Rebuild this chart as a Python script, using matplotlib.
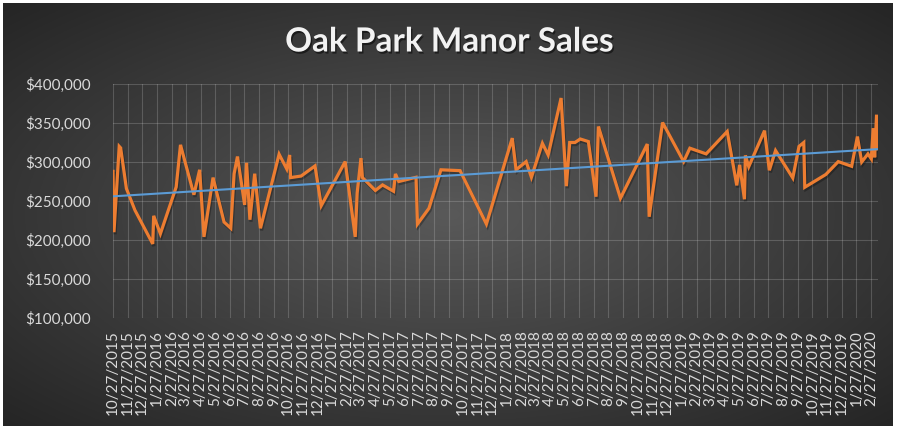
import numpy as np
import pandas as pd
import matplotlib
matplotlib.use("Agg")
import matplotlib.pyplot as plt
import matplotlib.dates as mdates
import matplotlib.patheffects as pe
from matplotlib.ticker import FuncFormatter

sale_dates = [
    "2015-10-27", "2015-10-29", "2015-11-09", "2015-11-12", "2015-11-24", "2015-12-12",
    "2016-01-18", "2016-01-20", "2016-02-03", "2016-03-07", "2016-03-16", "2016-04-13",
    "2016-04-25", "2016-05-04", "2016-05-23", "2016-06-15", "2016-06-29", "2016-07-06",
    "2016-07-13", "2016-07-28", "2016-08-01", "2016-08-08", "2016-08-18", "2016-08-30",
    "2016-10-08", "2016-10-24", "2016-10-30", "2016-11-01", "2016-11-23", "2016-12-22",
    "2017-01-04", "2017-02-23", "2017-03-16", "2017-03-20", "2017-03-28", "2017-03-31",
    "2017-04-27", "2017-05-12", "2017-06-04", "2017-06-08", "2017-06-15", "2017-07-21",
    "2017-07-24", "2017-08-17", "2017-09-11", "2017-10-21", "2017-12-15", "2018-02-07",
    "2018-02-15", "2018-03-08", "2018-03-19", "2018-04-11", "2018-04-23", "2018-05-20",
    "2018-05-31", "2018-06-07", "2018-06-18", "2018-06-29", "2018-07-16", "2018-08-01",
    "2018-08-06", "2018-09-21", "2018-11-16", "2018-11-20", "2018-12-18", "2019-01-31",
    "2019-02-13", "2019-03-19", "2019-05-02", "2019-05-22", "2019-05-28", "2019-06-07",
    "2019-06-09", "2019-06-16", "2019-07-19", "2019-07-29", "2019-08-11", "2019-09-16",
    "2019-09-29", "2019-10-09", "2019-10-11", "2019-11-24", "2019-12-20", "2020-01-17",
    "2020-01-29", "2020-02-07", "2020-02-20", "2020-02-27", "2020-03-02", "2020-03-05",
    "2020-03-09", "2020-03-12",
]
sale_prices = [
    288000, 210000, 320000, 318000, 266000, 238000,
    195000, 231000, 208000, 268000, 322000, 258000,
    290000, 204000, 280000, 223000, 215000, 285000,
    307000, 245000, 299000, 226000, 285000, 215000,
    310000, 291000, 309000, 280000, 282000, 295000,
    244000, 300500, 204000, 260000, 305000, 280000,
    263500, 270600, 262500, 284700, 275000, 280400,
    220400, 240600, 290000, 288900, 220400, 330600,
    290000, 300500, 280400, 324000, 309000, 382000,
    269000, 325000, 325000, 329500, 326200, 255500,
    345500, 253500, 323000, 229800, 350600, 300500,
    317700, 310400, 339100, 270000, 296300, 252200,
    308500, 294000, 340200, 289400, 314700, 279500,
    320000, 325000, 267600, 284000, 300500, 294500,
    332600, 300000, 310400, 304000, 343400, 306000,
    360500, 317000,
]
y_ticks = [100000, 150000, 200000, 250000, 300000, 350000, 400000]
tick_dates = pd.date_range("2015-10-27", "2020-02-27", freq=pd.DateOffset(months=1))
tick_labels = [f"{d.month}/{d.day}/{d.year}" for d in tick_dates]

dates = pd.to_datetime(sale_dates)
x = mdates.date2num(dates)

plt.rcParams['font.family'] = ['Lato', 'DejaVu Sans']

fig = plt.figure(figsize=(8.99, 4.30), dpi=100)
fig.patch.set_facecolor('white')

# radial gradient background of the chart area
bg = fig.add_axes([3 / 899, 4 / 430, 890 / 899, 423 / 430])
gy, gx = np.mgrid[0:1:300j, 0:1:600j]
r = np.sqrt(((gx - 0.5) / 0.5) ** 2 + ((gy - 0.5) / 0.5) ** 2) / np.sqrt(2)
r = np.clip(r, 0, 1)
centre = np.array([0x59, 0x59, 0x59]) / 255
edge = np.array([0x25, 0x25, 0x25]) / 255
img = centre[None, None, :] * (1 - r[..., None]) + edge[None, None, :] * r[..., None]
bg.imshow(img, aspect='auto', extent=[0, 1, 0, 1])
bg.axis('off')

ax = fig.add_axes([113 / 899, 1 - 318 / 430, 765 / 899, 234 / 430])
ax.set_facecolor('none')

ax.plot(x, sale_prices, color='#ED7D31', lw=2.3, solid_joinstyle='miter', zorder=3,
        path_effects=[pe.SimpleLineShadow(offset=(0.8, -1.5), shadow_color='black', alpha=0.28),
                      pe.Normal()])

coef = np.polyfit(x, sale_prices, 1)
tx = np.array([x[0], x[-1]])
ax.plot(tx, np.polyval(coef, tx), color='#5B9BD5', lw=1.5, zorder=4)

ax.set_xlim(x[0], x[-1])
ax.set_ylim(100000, 400000)
ax.set_yticks(y_ticks)
ax.yaxis.set_major_formatter(FuncFormatter(lambda v, p: f"${v:,.0f}"))
ax.set_xticks(mdates.date2num(tick_dates))
ax.set_xticklabels(tick_labels, rotation=90)

ax.grid(True, color='#d9d9d9', alpha=0.22, lw=0.8)
ax.set_axisbelow(True)
for s in ax.spines.values():
    s.set_visible(False)
ax.tick_params(axis='both', length=0, colors='#d9d9d9', labelsize=11)
ax.tick_params(axis='y', pad=16)
ax.tick_params(axis='x', pad=9)

fig.text(0.5, 1 - 42 / 430, "Oak Park Manor Sales", ha='center', va='center',
         color='#f2f2f2', fontsize=24, fontweight='bold',
         path_effects=[pe.withSimplePatchShadow(offset=(1, -1.5), shadow_rgbFace='black', alpha=0.5)])

fig.savefig("out.png", dpi=100)
